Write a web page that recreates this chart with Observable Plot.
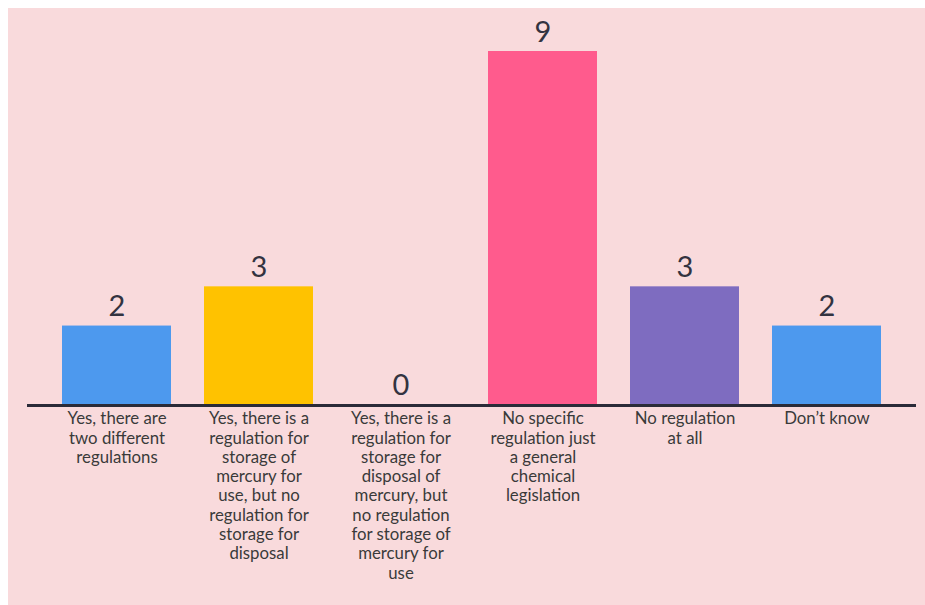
<!DOCTYPE html>
<html>
<head>
<meta charset="utf-8">
<script src="https://cdn.jsdelivr.net/npm/d3@7"></script>
<script src="https://cdn.jsdelivr.net/npm/@observablehq/plot@0.6"></script>
<style>
  html, body { margin: 0; padding: 0; background: #ffffff; }
  #wrap { padding: 8px 0 0 8px; width: 917px; height: 597px; }
  #wrap svg { display: block; background: #f9dadc; }
</style>
</head>
<body>
<div id="wrap"></div>
<script>
const categories = [
  "Yes, there are two different regulations",
  "Yes, there is a regulation for storage of mercury for use, but no regulation for storage for disposal",
  "Yes, there is a regulation for storage for disposal of mercury, but no regulation for storage of mercury for use",
  "No specific regulation just a general chemical legislation",
  "No regulation at all",
  "Don't know"
];
const tickLabels = [
  "Yes, there are\ntwo different\nregulations",
  "Yes, there is a\nregulation for\nstorage of\nmercury for\nuse, but no\nregulation for\nstorage for\ndisposal",
  "Yes, there is a\nregulation for\nstorage for\ndisposal of\nmercury, but\nno regulation\nfor storage of\nmercury for\nuse",
  "No specific\nregulation just\na general\nchemical\nlegislation",
  "No regulation\nat all",
  "Don\u2019t know"
];
const values = [2, 3, 0, 9, 3, 2];
const colors = ["#4d99ee", "#ffc200", "#4d99ee", "#ff5b8d", "#7e6cc0", "#4d99ee"];

const data = categories.map((c, i) => ({cat: c, label: tickLabels[i], value: values[i], color: colors[i]}));

const chart = Plot.plot({
  width: 917,
  height: 597,
  marginLeft: 19,
  marginRight: 9,
  marginTop: 0,
  marginBottom: 0,
  style: {background: "#f9dadc", fontFamily: "Lato, 'Noto Sans', sans-serif"},
  x: {domain: categories, padding: 0.23, axis: null},
  y: {domain: [0, 9], range: [396, 43], axis: null},
  marks: [
    Plot.barY(data, {x: "cat", y: "value", fill: "color"}),
    Plot.ruleY([0], {stroke: "#2b2b38", strokeWidth: 3, dy: 1}),
    Plot.text(data, {x: "cat", y: "value", text: d => String(d.value), lineAnchor: "bottom", dy: -10, fontSize: 29, fill: "#333340"}),
    Plot.text(data, {x: "cat", y: 0, text: "label", lineAnchor: "top", dy: 6, fontSize: 16.8, lineHeight: 1.15, fill: "#3a3a3a"})
  ]
});
document.getElementById("wrap").appendChild(chart);
</script>
</body>
</html>
